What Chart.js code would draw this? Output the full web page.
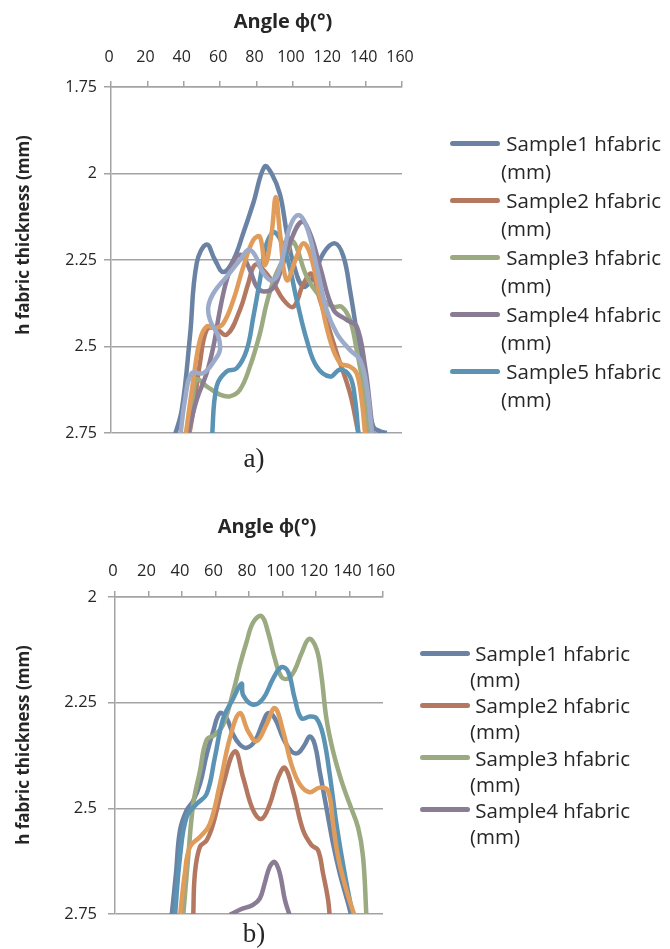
<!DOCTYPE html>
<html>
<head>
<meta charset="utf-8">
<script src="https://cdn.jsdelivr.net/npm/chart.js@4.4.0/dist/chart.umd.min.js"></script>
<style>
  body { margin: 0; width: 670px; height: 949px; position: relative; background: #fff; overflow: hidden; font-family: 'Open Sans', sans-serif; color: #262626; }
  canvas { position: absolute; left: 0; }
  .xtitle { position: absolute; font-weight: bold; font-size: 20px; white-space: nowrap; transform: translate(-50%, -50%); }
  .ytitle { position: absolute; font-weight: bold; font-size: 17px; white-space: nowrap; transform: translate(-50%, -50%) rotate(-90deg); }
  .swatch { position: absolute; width: 50px; height: 5px; border-radius: 3px; }
  .legtext { position: absolute; font-size: 20.5px; white-space: nowrap; }
  .caption { position: absolute; font-family: 'Liberation Serif', serif; font-size: 27px; transform: translate(-50%, -50%); }
</style>
</head>
<body>
<canvas id="chartA" width="670" height="480" style="top:0"></canvas>
<canvas id="chartB" width="670" height="479" style="top:470px"></canvas>

<div class="xtitle" style="left:283px;top:20px">Angle ϕ(°)</div>
<div class="ytitle" style="left:22px;top:235px">h fabric thickness (mm)</div>
<div class="caption" style="left:254px;top:458px">a)</div>

<div class="xtitle" style="left:267px;top:525px">Angle ϕ(°)</div>
<div class="ytitle" style="left:22px;top:745px">h fabric thickness (mm)</div>
<div class="caption" style="left:254px;top:933px">b)</div>

<script>
// ---- chart a) : angle (deg) / fabric thickness (mm) per sample
const angleA1 = [34.3, 38.9, 43.4, 47.1, 52.6, 57.2, 61.8, 67.3, 72.7, 78.2, 84.4, 88.3, 92.9, 96.6, 100.3, 105.7, 111.3, 116.7, 123.2, 127.8, 131.4, 136.0, 140.6, 144.2, 147.9, 151.6];
const thickA1 = [2.77, 2.683, 2.471, 2.26, 2.205, 2.25, 2.285, 2.25, 2.173, 2.086, 1.98, 2.0, 2.06, 2.17, 2.26, 2.327, 2.298, 2.231, 2.202, 2.24, 2.337, 2.49, 2.644, 2.731, 2.745, 2.75];

const angleA2 = [42.5, 45.3, 48.9, 52.6, 57.2, 63.6, 70.9, 75.5, 79.2, 83.8, 89.3, 94.8, 100.3, 105.7, 110.3, 114.9, 124.1, 131.4, 136.0, 137.0];
const thickA2 = [2.77, 2.683, 2.548, 2.452, 2.447, 2.466, 2.394, 2.317, 2.264, 2.279, 2.317, 2.365, 2.385, 2.32, 2.29, 2.365, 2.519, 2.635, 2.75, 2.77];

const angleA3 = [42.5, 44.5, 47.1, 52.6, 59.9, 65.4, 70.9, 76.4, 81.9, 85.6, 90.2, 96.6, 100.3, 107.6, 114.9, 122.2, 126.8, 131.4, 135.1, 138.7, 141.5, 142.5];
const thickA3 = [2.77, 2.68, 2.596, 2.615, 2.639, 2.644, 2.625, 2.558, 2.462, 2.375, 2.298, 2.231, 2.197, 2.298, 2.356, 2.385, 2.385, 2.423, 2.51, 2.615, 2.75, 2.77];

const angleA4 = [41.6, 47.1, 52.6, 56.3, 59.9, 63.6, 68.2, 71.8, 76.4, 80.1, 83.8, 89.3, 94.0, 98.4, 104.8, 109.4, 114.9, 122.3, 129.6, 135.1, 139.7, 142.4, 144.2];
const thickA4 = [2.77, 2.654, 2.577, 2.5, 2.394, 2.308, 2.245, 2.236, 2.279, 2.327, 2.341, 2.33, 2.27, 2.2, 2.139, 2.173, 2.269, 2.394, 2.423, 2.442, 2.558, 2.673, 2.77];

const angleA5 = [55.4, 58.1, 63.6, 69.1, 74.6, 78.3, 81.9, 85.6, 90.2, 96.6, 102.1, 107.6, 113.1, 120.4, 125.9, 131.4, 134.2, 136.0, 136.5];
const thickA5 = [2.77, 2.615, 2.572, 2.563, 2.51, 2.413, 2.308, 2.202, 2.17, 2.24, 2.365, 2.481, 2.558, 2.587, 2.567, 2.587, 2.654, 2.75, 2.77];

const angleA6 = [40.7, 45.3, 48.9, 52.6, 57.2, 61.8, 67.3, 72.8, 78.3, 81.9, 84.7, 88.3, 90.6, 92.9, 96.6, 102.1, 105.7, 109.4, 114.9, 120.4, 125.9, 131.4, 135.1, 137.8, 139.7, 140.2];
const thickA6 = [2.77, 2.596, 2.481, 2.442, 2.447, 2.433, 2.365, 2.269, 2.192, 2.183, 2.265, 2.172, 2.068, 2.172, 2.308, 2.24, 2.202, 2.231, 2.356, 2.481, 2.548, 2.558, 2.577, 2.654, 2.75, 2.77];

const angleA7 = [37.9, 40.7, 44.4, 50.8, 57.2, 59.9, 59.0, 54.4, 53.5, 56.3, 63.6, 70.9, 75.5, 79.2, 82.8, 87.4, 91.1, 94.5, 98.4, 103.0, 107.6, 113.1, 118.6, 124.1, 131.4, 136.9, 140.6, 143.3, 144.0];
const thickA7 = [2.77, 2.654, 2.577, 2.577, 2.538, 2.51, 2.471, 2.423, 2.385, 2.346, 2.298, 2.25, 2.221, 2.236, 2.279, 2.308, 2.298, 2.24, 2.154, 2.12, 2.154, 2.269, 2.394, 2.462, 2.51, 2.538, 2.615, 2.74, 2.77];

// ---- chart b)
const angleB1 = [33.8, 36.4, 38.8, 42.7, 46.7, 50.7, 54.7, 58.6, 62.6, 66.6, 70.6, 74.5, 78.5, 83.5, 88.5, 91.4, 95.4, 100.4, 105.3, 109.3, 113.3, 116.3, 119.3, 122.2, 126.2, 130.2, 134.2, 139.1, 141.1];
const thickB1 = [2.755, 2.654, 2.552, 2.505, 2.482, 2.443, 2.373, 2.318, 2.275, 2.287, 2.326, 2.349, 2.357, 2.341, 2.295, 2.275, 2.287, 2.334, 2.365, 2.369, 2.349, 2.33, 2.349, 2.412, 2.498, 2.584, 2.654, 2.724, 2.755];

const angleB2 = [46.7, 47.7, 50.7, 54.7, 58.6, 64.6, 71.6, 76.5, 82.5, 87.5, 92.4, 97.4, 101.4, 106.3, 112.3, 117.3, 121.2, 124.2, 127.2, 128.2];
const thickB2 = [2.755, 2.654, 2.591, 2.576, 2.537, 2.443, 2.365, 2.427, 2.505, 2.525, 2.49, 2.427, 2.404, 2.459, 2.552, 2.587, 2.599, 2.654, 2.716, 2.755];

const angleB3 = [40.7, 43.7, 46.7, 50.7, 54.7, 59.6, 64.6, 70.6, 74.5, 78.5, 82.5, 87.5, 91.4, 95.4, 99.4, 103.4, 107.3, 111.3, 115.9, 120.3, 123.2, 126.2, 130.2, 135.2, 140.1, 145.1, 148.1, 150.1];
const thickB3 = [2.755, 2.615, 2.49, 2.412, 2.338, 2.326, 2.302, 2.224, 2.162, 2.107, 2.06, 2.045, 2.084, 2.146, 2.189, 2.193, 2.173, 2.134, 2.099, 2.123, 2.185, 2.287, 2.365, 2.435, 2.49, 2.545, 2.615, 2.755];

const angleB4 = [68.6, 74.5, 82.5, 86.5, 89.4, 92.4, 95.4, 98.4, 101.4, 104.4];
const thickB4 = [2.752, 2.74, 2.728, 2.713, 2.677, 2.638, 2.627, 2.654, 2.716, 2.755];

const angleB5 = [35.8, 38.8, 42.7, 48.7, 54.7, 59.6, 64.6, 70.6, 75.5, 76.5, 82.5, 88.5, 94.4, 99.4, 103.4, 107.3, 111.3, 116.3, 120.3, 124.2, 128.2, 132.2, 137.1, 142.1];
const thickB5 = [2.755, 2.615, 2.521, 2.49, 2.466, 2.38, 2.287, 2.24, 2.205, 2.232, 2.255, 2.24, 2.193, 2.166, 2.177, 2.24, 2.287, 2.283, 2.287, 2.326, 2.42, 2.537, 2.654, 2.755];

const angleB6 = [38.8, 41.7, 44.7, 50.7, 56.6, 62.6, 68.6, 74.5, 79.5, 84.5, 90.4, 95.4, 100.4, 105.3, 110.3, 116.3, 122.2, 127.2, 130.2, 133.2, 138.1, 143.1];
const thickB6 = [2.755, 2.654, 2.591, 2.568, 2.537, 2.443, 2.334, 2.275, 2.318, 2.341, 2.302, 2.263, 2.318, 2.396, 2.443, 2.462, 2.451, 2.459, 2.537, 2.615, 2.693, 2.755];

const sampleNames = ['Sample1 hfabric (mm)', 'Sample2 hfabric (mm)', 'Sample3 hfabric (mm)', 'Sample4 hfabric (mm)', 'Sample5 hfabric (mm)', 'Sample6 hfabric (mm)', 'Sample7 hfabric (mm)'];
const sampleColors = ['#6A83A4', '#B47860', '#9BAA80', '#8A7C95', '#5B93B5', '#E09C5B', '#9DABCB'];

const seriesA = [[angleA1, thickA1], [angleA2, thickA2], [angleA3, thickA3], [angleA4, thickA4], [angleA5, thickA5], [angleA6, thickA6], [angleA7, thickA7]];
const seriesB = [[angleB1, thickB1], [angleB2, thickB2], [angleB3, thickB3], [angleB4, thickB4], [angleB5, thickB5], [angleB6, thickB6]];

const gridGray = '#A3A3A3';

function makeChart(id, series, yMin, pad, tickFont, xTickPad, yTickPad) {
  const datasets = series.map((s, i) => ({
    label: sampleNames[i],
    data: s[0].map((a, k) => ({ x: a, y: s[1][k] })),
    borderColor: sampleColors[i],
    borderWidth: 4.5,
    pointRadius: 0,
    tension: 0.4,
    fill: false,
    order: series.length - i   // later samples drawn on top, like the original
  }));
  return new Chart(document.getElementById(id), {
    type: 'line',
    data: { datasets: datasets },
    options: {
      responsive: false,
      animation: false,
      layout: { padding: pad },
      plugins: { legend: { display: false }, tooltip: { enabled: false } },
      scales: {
        x: {
          type: 'linear', position: 'top', min: 0, max: 160,
          ticks: { stepSize: 20, autoSkip: false, maxRotation: 0, padding: xTickPad, labelOffset: -2, color: '#262626', font: { family: 'Open Sans', size: tickFont } },
          grid: { drawOnChartArea: false, color: gridGray, lineWidth: 1.5, tickLength: 6 },
          border: { color: gridGray, width: 1.5 },
          afterFit: s => { s.height = 45; }
        },
        y: {
          reverse: true, min: yMin, max: 2.75,
          ticks: { stepSize: 0.25, padding: yTickPad, color: '#262626', font: { family: 'Open Sans', size: tickFont },
                   callback: v => String(Math.round(v * 100) / 100) },
          grid: { color: gridGray, lineWidth: 1.5, tickLength: 7 },
          border: { color: gridGray, width: 1.5 },
          afterFit: s => { s.width = 61; }
        }
      }
    }
  });
}

function htmlLegend(chart, count, left, top, step, lineH, textLeft) {
  chart.data.datasets.slice(0, count).forEach((ds, i) => {
    const y = top + i * step;
    const sw = document.createElement('div');
    sw.className = 'swatch';
    sw.style.left = left + 'px';
    sw.style.top = (y - 2.5) + 'px';
    sw.style.background = ds.borderColor;
    document.body.appendChild(sw);
    const cut = ds.label.lastIndexOf(' ');
    const tx = document.createElement('div');
    tx.className = 'legtext';
    tx.style.left = textLeft + 'px';
    tx.style.top = (y - lineH / 2) + 'px';
    tx.style.lineHeight = lineH + 'px';
    tx.innerHTML = '&nbsp;' + ds.label.slice(0, cut) + '<br>' + ds.label.slice(cut + 1);
    document.body.appendChild(tx);
  });
}

const chartA = makeChart('chartA', seriesA, 1.75, { left: 50, right: 268, top: 42, bottom: 47 }, 16, 14, 7);
const chartB = makeChart('chartB', seriesB, 2, { left: 54, right: 287, top: 82, bottom: 35 }, 16.5, 10, 11);

htmlLegend(chartA, 5, 450, 143, 57, 28.5, 501);
htmlLegend(chartB, 4, 420, 653, 52.3, 26, 470);
</script>
</body>
</html>
